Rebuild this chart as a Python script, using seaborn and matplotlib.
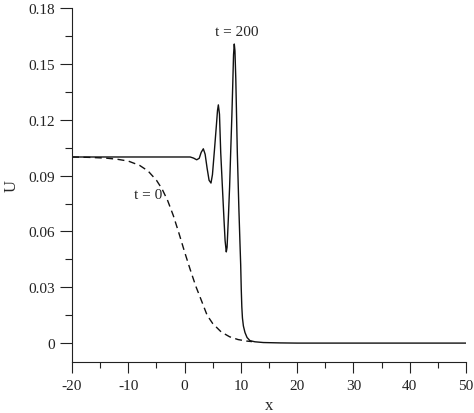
import pandas as pd
import matplotlib
matplotlib.use("Agg")
import matplotlib.pyplot as plt
import seaborn as sns

# t = 0 initial profile
x_t0 = [-20, -17, -14, -12, -10, -8, -6.5, -5, -4, -3, -2, -1, 0, 1, 2, 3, 4,
        5, 6.5, 8, 9.5, 11, 12]
u_t0 = [0.1, 0.0998, 0.0994, 0.0988, 0.0978, 0.0955, 0.0925, 0.0875, 0.0828,
        0.0765, 0.0685, 0.0590, 0.0490, 0.0395, 0.0305, 0.0228, 0.0150, 0.0105,
        0.0060, 0.0034, 0.0019, 0.0011, 0.0008]

# t = 200 profile
x_t200 = [-20, -10, 0, 1.0, 1.6, 2.15, 2.6, 2.95, 3.33, 3.65, 4.0, 4.35, 4.69,
          4.95, 5.3, 5.65, 5.85, 6.0, 6.2, 6.42, 6.7, 7.0, 7.2, 7.41, 7.55,
          7.77, 8.0, 8.19, 8.4, 8.55, 8.7, 8.83, 8.95, 9.1, 9.37, 9.65, 9.85,
          9.97, 10.07, 10.17, 10.28, 10.45, 10.73, 11.1, 11.62, 12.5, 14, 17,
          20, 30, 40, 50]
u_t200 = [0.1, 0.1, 0.1, 0.1, 0.0994, 0.0985, 0.0993, 0.1025, 0.1044, 0.1015,
          0.094, 0.0875, 0.086, 0.0905, 0.1035, 0.117, 0.125, 0.128, 0.123,
          0.1025, 0.085, 0.0665, 0.055, 0.049, 0.0515, 0.0666, 0.084, 0.1025,
          0.122, 0.138, 0.155, 0.1607, 0.157, 0.142, 0.1025, 0.072, 0.053,
          0.042, 0.029, 0.0195, 0.0135, 0.0092, 0.0057, 0.0030, 0.0013,
          0.0007, 0.0003, 0.0001, 0, 0, 0, 0]

x_ticks = [-20, -10, 0, 10, 20, 30, 40, 50]
y_ticks = [0, 0.03, 0.06, 0.09, 0.12, 0.15, 0.18]
y_tick_labels = ["0", "0.03", "0.06", "0.09", "0.12", "0.15", "0.18"]

sns.set_theme(style="ticks")
plt.rcParams.update({
    "font.family": ["Liberation Serif", "DejaVu Serif"],
    "font.size": 11,
    "axes.unicode_minus": False,
    "axes.linewidth": 0.8,
    "xtick.major.size": 8, "ytick.major.size": 9,
    "xtick.minor.size": 4.5, "ytick.minor.size": 5,
    "xtick.major.width": 0.8, "ytick.major.width": 0.8,
    "xtick.minor.width": 0.8, "ytick.minor.width": 0.8,
    "xtick.major.pad": 4, "ytick.major.pad": 3.5,
    "xtick.labelsize": 11, "ytick.labelsize": 11,
    "axes.edgecolor": "#222222",
    "xtick.color": "#222222", "ytick.color": "#222222",
})

df0 = pd.DataFrame({"x": x_t0, "U": u_t0})
df1 = pd.DataFrame({"x": x_t200, "U": u_t200})

fig = plt.figure(figsize=(4.74, 4.14), dpi=100)
ax = fig.add_axes([0.152, 0.123, 0.831, 0.855])

sns.lineplot(data=df0, x="x", y="U", ax=ax, color="#111111", linewidth=1.0,
             linestyle=(0, (5, 3.2)), sort=False)
sns.lineplot(data=df1, x="x", y="U", ax=ax, color="#111111", linewidth=1.0,
             sort=False)

ax.set_xlim(-20, 50)
ax.set_ylim(-0.0102, 0.18)
ax.set_xticks(x_ticks)
ax.set_xticks([-15, -5, 5, 15, 25, 35, 45], minor=True)
ax.set_yticks(y_ticks)
ax.set_yticklabels(y_tick_labels)
ax.set_yticks([0.015, 0.045, 0.075, 0.105, 0.135, 0.165], minor=True)

ax.set_xlabel("x", fontsize=12, labelpad=4)
ax.set_ylabel("U", fontsize=12, labelpad=6)

ax.text(9.25, 0.1673, "t = 200", ha="center", va="center", fontsize=11)
ax.text(-6.5, 0.080, "t = 0", ha="center", va="center", fontsize=11)

sns.despine(ax=ax)

fig.savefig("out.png", dpi=100)
